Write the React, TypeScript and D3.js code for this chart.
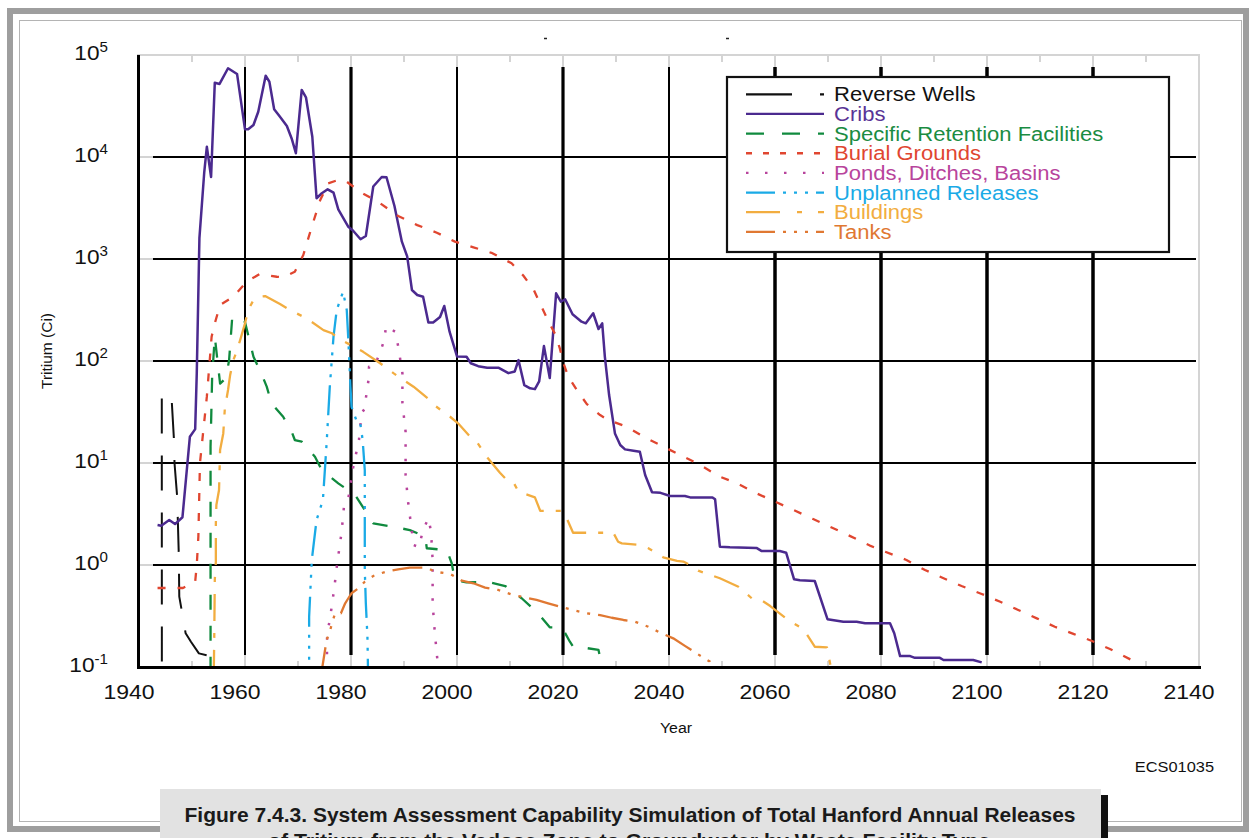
import React from 'react';
import * as d3 from 'd3';

type Pt = [number, number];

// ---------- axis data ----------
const YEAR_LABELS = [1940, 1960, 1980, 2000, 2020, 2040, 2060, 2080, 2100, 2120, 2140];
const GRID_YEARS = [1960, 1980, 2000, 2020, 2040, 2060, 2080, 2100, 2120];
const MINOR_YEARS = d3.range(1950, 2140, 10);
const DECADES = [0.1, 1, 10, 100, 1000, 10000, 100000];
const EXPONENTS = ['-1', '0', '1', '2', '3', '4', '5'];
const GRID_DECADES = [1, 10, 100, 1000, 10000];

// ---------- series data (year, Ci) ----------
const reverseWells: Pt[] = [
  [1944.3, 43], [1944.32, 0.01], [1945, NaN],
  [1946.2, 38.7], [1946.6, 16.8], [1946.7, 10], [1947.2, 4.67], [1947.5, 1.31], [1947.6, 0.49],
  [1948.1, 0.348], [1948.8, 0.214], [1949.8, 0.177], [1951.3, 0.136], [1953.5, 0.128],
  [1953.8, 0.117], [1953.9, 0.05],
];

const cribs: Pt[] = [
  [1943.5, 2.47], [1944.2, 2.43], [1945.7, 2.76], [1946.8, 2.52], [1948.2, 2.94], [1949.6, 18.1],
  [1950.6, 21.5], [1950.9, 76], [1951.4, 1600], [1952.3, 6970], [1952.8, 12600], [1953.6, 6370],
  [1954.3, 53400], [1955.2, 52000], [1956.8, 74100], [1958.5, 65200], [1960.0, 18700], [1960.6, 18700],
  [1961.6, 20600], [1962.5, 27800], [1963.9, 62700], [1964.6, 54700], [1965.5, 29400], [1966.6, 24800],
  [1967.9, 20100], [1968.8, 15200], [1969.6, 10900], [1970.7, 45400], [1971.5, 38500], [1972.7, 15800],
  [1973.5, 3940], [1974.5, 4410], [1975.6, 4820], [1976.7, 4470], [1977.6, 3070], [1979.5, 2070],
  [1980.4, 1890], [1981.8, 1560], [1982.8, 1680], [1984.2, 5140], [1985.8, 6370], [1986.7, 6330],
  [1988.2, 3310], [1989.6, 1480], [1990.6, 1060], [1991.5, 497], [1992.5, 444], [1993.6, 427],
  [1994.6, 238], [1995.5, 238], [1996.8, 270], [1997.6, 346], [1998.6, 194], [2000.0, 111],
  [2001.8, 110], [2002.6, 95], [2004.0, 89], [2005.7, 86], [2007.8, 86], [2009.7, 76], [2010.9, 79],
  [2011.6, 102], [2012.7, 58], [2013.8, 54], [2014.7, 53], [2015.5, 63], [2016.4, 140], [2017.5, 68],
  [2018.7, 461], [2019.6, 381], [2020.4, 403], [2021.8, 287], [2023.5, 243], [2024.3, 234],
  [2025.7, 294], [2026.7, 206], [2027.4, 234], [2027.9, 110], [2028.7, 46.4], [2029.8, 19.5],
  [2030.8, 15], [2031.7, 13.6], [2033.3, 13.2], [2034.5, 12.9], [2035.5, 7.63], [2036.8, 5.16],
  [2038.4, 5.1], [2040.2, 4.75], [2043.0, 4.75], [2044.0, 4.6], [2048.2, 4.6], [2048.7, 4.4],
  [2049.6, 1.51], [2051.5, 1.49], [2056.5, 1.47], [2057.5, 1.37], [2060.9, 1.37], [2062.1, 1.32],
  [2063.6, 0.724], [2064.7, 0.71], [2067.5, 0.697], [2069.9, 0.294], [2072.9, 0.278], [2075.4, 0.278],
  [2077.0, 0.268], [2081.7, 0.268], [2082.5, 0.214], [2083.6, 0.128], [2085.5, 0.128], [2086.4, 0.123],
  [2091.1, 0.123], [2091.8, 0.117], [2097.4, 0.117], [2099.0, 0.111],
];

const specificRetention: Pt[] = [
  [1953.5, 0.09], [1953.5, 14.4], [1953.8, 70], [1954.3, 173], [1955.3, 60], [1956.4, 68], [1957.0, 102],
  [1957.6, 272], [1959.1, 264], [1960.0, 241], [1961.6, 110], [1963.2, 73], [1964.1, 56], [1965.0, 38.5],
  [1967.2, 28.4], [1968.8, 20.3], [1969.4, 16.8], [1970.7, 16.2], [1973.2, 11.5], [1974.5, 8.53],
  [1977.6, 6.32], [1980.8, 4.85], [1982.6, 3.46], [1984.2, 2.56], [1988.0, 2.37], [1991.1, 2.2],
  [1994.0, 1.9], [1994.3, 1.46], [1998.1, 1.4], [1999.0, 1.04], [1999.6, 0.713], [2001.8, 0.676],
  [2005.9, 0.68], [2009.1, 0.622], [2012.2, 0.472], [2015.3, 0.336], [2017.5, 0.245], [2019.8, 0.245],
  [2021.3, 0.177], [2022.0, 0.156], [2023.5, 0.156], [2026.7, 0.147], [2027.3, 0.105], [2027.5, 0.08],
];

const burialGrounds: Pt[] = [
  [1943.5, 0.595], [1948.3, 0.595], [1950.6, 0.686], [1950.9, 1.0], [1951.2, 1.9], [1951.5, 10],
  [1952.8, 44.7], [1953.1, 70], [1953.7, 173], [1954.3, 234], [1955.3, 354], [1957.8, 427],
  [1960.3, 599], [1962.8, 713], [1966.0, 670], [1967.2, 660], [1969.4, 750], [1971.0, 1094],
  [1972.6, 2073], [1974.2, 3790], [1975.7, 5520], [1977.9, 6040], [1979.2, 5720], [1982.0, 4470],
  [1985.5, 3520], [1988.9, 2640], [1992.5, 2150], [1996.2, 1810], [1999.6, 1480], [2003.1, 1300],
  [2006.5, 1150], [2010.3, 908], [2012.5, 689], [2014.5, 497], [2015.8, 354], [2017.2, 247],
  [2018.5, 184], [2019.4, 133], [2020.1, 95], [2021.0, 70], [2022.6, 52], [2024.5, 37.8],
  [2027.0, 29.5], [2028.5, 26.4], [2032.0, 22.7], [2035.2, 18.1], [2038.9, 14.5], [2042.1, 12],
  [2045.5, 9.8], [2049.6, 7.34], [2052.8, 6.32], [2056.5, 5.05], [2060.0, 4.18], [2063.5, 3.46],
  [2067.2, 2.82], [2070.4, 2.37], [2074.2, 1.92], [2077.9, 1.55], [2080.8, 1.35], [2084.8, 1.12],
  [2088.3, 0.893], [2091.8, 0.741], [2095.2, 0.622], [2099.0, 0.52], [2102.5, 0.436], [2105.9, 0.362],
  [2109.4, 0.3], [2112.8, 0.248], [2116.3, 0.211], [2119.8, 0.18], [2123.2, 0.15], [2127.3, 0.117],
  [2127.8, 0.112],
];

const pondsDitchesBasins: Pt[] = [
  [1975.4, 0.05], [1975.5, 0.214], [1976.0, 0.289], [1976.8, 0.569], [1977.4, 1.04], [1978.2, 2.05],
  [1978.7, 3.87], [1979.5, 4.51], [1980.3, 8.5], [1981.5, 16.8], [1982.0, 30.7], [1982.5, 33.6],
  [1983.3, 65], [1983.4, 88], [1984.4, 88], [1985.3, 115], [1986.3, 161], [1986.6, 220],
  [1988.3, 194], [1988.9, 140], [1989.7, 76], [1989.7, 38.7], [1990.3, 20.3], [1990.3, 7.6],
  [1990.8, 4.03], [1991.5, 2.12], [1991.8, 1.57], [1992.8, 1.5], [1993.6, 2.2], [1994.6, 2.87],
  [1995.1, 2.13], [1995.4, 1.12], [1995.4, 0.42], [1995.8, 0.222], [1996.3, 0.117], [1996.5, 0.05],
];

const unplannedReleases: Pt[] = [
  [1972.1, 0.05], [1972.1, 0.311], [1972.6, 1.12], [1973.5, 2.76], [1974.7, 4.34], [1975.4, 15.6],
  [1976.0, 56], [1976.7, 173], [1977.3, 316], [1978.5, 478], [1979.2, 316], [1979.5, 161],
  [1979.9, 56], [1980.1, 35.6], [1981.1, 25.4], [1981.7, 25.4], [1982.2, 16.8], [1982.6, 8.5],
  [1982.6, 0.89], [1982.8, 0.42], [1983.1, 0.198], [1983.3, 0.05],
];

const buildings: Pt[] = [
  [1954.1, 0.08], [1954.2, 0.198], [1954.3, 0.713], [1954.5, 1.08], [1954.5, 2.56], [1954.6, 3.87],
  [1955.1, 5.44], [1955.3, 13.4], [1955.9, 19.5], [1956.2, 34.4], [1956.8, 52], [1957.2, 73],
  [1957.8, 102], [1958.4, 123], [1959.1, 161], [1960.0, 234], [1960.6, 316], [1961.6, 396],
  [1962.5, 427], [1963.8, 433], [1966.6, 362], [1968.5, 316], [1971.6, 262], [1974.8, 201],
  [1976.4, 187], [1977.6, 167], [1981.1, 133], [1982.3, 123], [1985.5, 95], [1988.0, 76],
  [1989.9, 65], [1991.8, 56], [1995.2, 40], [1995.8, 36.6], [1998.7, 28.4], [2000.2, 24.5],
  [2002.5, 18.1], [2003.7, 16.2], [2005.8, 11.2], [2008.1, 8.04], [2009.4, 6.81], [2010.6, 6.55],
  [2011.6, 5.23], [2014.7, 4.61], [2015.7, 3.4], [2019.8, 3.4], [2020.7, 2.87], [2021.9, 2.07],
  [2029.5, 2.07], [2030.4, 1.69], [2031.1, 1.63], [2034.5, 1.57], [2036.1, 1.46], [2038.9, 1.19],
  [2041.5, 1.1], [2042.7, 1.08], [2044.0, 1.0], [2045.5, 0.88], [2049.6, 0.741], [2053.1, 0.612],
  [2055.6, 0.472], [2057.2, 0.46], [2059.1, 0.396], [2062.5, 0.289], [2065.4, 0.234], [2067.5, 0.158],
  [2069.8, 0.156], [2070.7, 0.09],
];

const tanks: Pt[] = [
  [1974.3, 0.08], [1975.4, 0.184], [1976.0, 0.222], [1976.5, 0.278], [1977.0, 0.336], [1978.1, 0.336],
  [1978.9, 0.421], [1979.5, 0.472], [1980.1, 0.528], [1981.4, 0.591], [1982.6, 0.686], [1984.5, 0.798],
  [1986.7, 0.86], [1988.9, 0.908], [1991.1, 0.942], [1994.3, 0.942], [1995.2, 0.893], [1996.7, 0.847],
  [1998.7, 0.816], [2000.9, 0.702], [2003.1, 0.662], [2005.3, 0.6], [2007.8, 0.569], [2010.6, 0.508],
  [2012.8, 0.482], [2015.0, 0.454], [2017.2, 0.421], [2019.4, 0.39], [2021.9, 0.362], [2024.5, 0.336],
  [2027.0, 0.323], [2029.2, 0.304], [2031.4, 0.289], [2033.6, 0.278], [2036.1, 0.248], [2038.6, 0.214],
  [2040.8, 0.191], [2043.0, 0.161], [2045.2, 0.136], [2047.7, 0.113], [2048.3, 0.09],
];

const SERIES_NAMES = [
  'Reverse Wells', 'Cribs', 'Specific Retention Facilities', 'Burial Grounds',
  'Ponds, Ditches, Basins', 'Unplanned Releases', 'Buildings', 'Tanks',
];
const SERIES_DATA = [reverseWells, cribs, specificRetention, burialGrounds, pondsDitchesBasins, unplannedReleases, buildings, tanks];

// styles
const SERIES_COLORS = ['#111111', '#4b2a8f', '#108a3e', '#e04630', '#b8449c', '#1aaae6', '#f2ad40', '#e07832'];
const TEXT_COLORS = ['#111111', '#5a3496', '#1a8c42', '#e04630', '#b8449c', '#1aaae6', '#f2ad40', '#e07832'];
const SERIES_DASH = ['35,22', 'none', '15,16', '8,12', '2.5,12', '30,8,3,8,3,8,3,8', '27,12,5,12', '30,8,3,8,3,8,3,8'];
const LEGEND_DASH = ['46,28', 'none', '18,18', '6,11', '2.5,16.5', '29,8,3,8,3,8,3,8', '34,17,5,16', '29,8,3,8,3,8,3,8'];
const SERIES_WIDTH = [2, 2.5, 2.3, 2.3, 2.5, 2.3, 2.3, 2.3];
const GRID_WIDTH: Record<number, number> = { 1960: 2, 1980: 3.2, 2000: 2, 2020: 3.2, 2040: 2, 2060: 3.5, 2080: 3.5, 2100: 3.5, 2120: 3.5 };

const FONT = "'Liberation Sans', Arial, Helvetica, sans-serif";

export default function App() {
  const W = 1249, H = 838;
  const x = d3.scaleLinear().domain([1940, 2140]).range([139, 1199]);
  const y = d3.scaleLog().domain([0.1, 1e5]).range([667, 55]);

  const line = d3.line<Pt>()
    .defined(d => Number.isFinite(d[1]) && d[1] > 0)
    .x(d => x(d[0]))
    .y(d => y(d[1]));

  const left = x(1940), right = x(2140), top = y(1e5), bottom = y(0.1);

  const legendX = 727, legendY = 77, legendW = 442, legendH = 175;
  const rowY0 = 94.3, rowStep = 19.65;

  return (
    <svg width={W} height={H} viewBox={`0 0 ${W} ${H}`}
      style={{ position: 'absolute', left: 0, top: 0, display: 'block', background: '#fff' }}
      fontFamily={FONT}>
      <defs>
        <clipPath id="plotClip">
          <rect x={left} y={top} width={right - left} height={bottom - top} />
        </clipPath>
      </defs>
      <rect x={0} y={0} width={W} height={H} fill="#ffffff" />

      {/* outer frame */}
      <rect x={10} y={11} width={1236} height={818} fill="none" stroke="#9e9e9e" strokeWidth={6} />
      <rect x={19.5} y={20.5} width={1222} height={801} fill="none" stroke="#b4b4b4" strokeWidth={1} />

      {/* tiny title remnants */}
      <line x1={544} x2={547} y1={38.5} y2={38.5} stroke="#222" strokeWidth={1.5} />
      <line x1={726} x2={729} y1={38.5} y2={38.5} stroke="#222" strokeWidth={1.5} />

      {/* frame of plot: top and right light borders */}
      <line x1={left - 2} x2={right + 1} y1={top} y2={top} stroke="#d4d4d4" strokeWidth={2} />
      <line x1={right} x2={right} y1={top} y2={bottom} stroke="#d4d4d4" strokeWidth={2} />

      {/* minor ticks top and bottom */}
      {MINOR_YEARS.map(t => (
        <g key={'mt' + t}>
          <line x1={x(t)} x2={x(t)} y1={top} y2={top + (t % 20 === 0 ? 12 : 7)} stroke="#d4d4d4" strokeWidth={2} />
          <line x1={x(t)} x2={x(t)} y1={bottom} y2={bottom - (t % 20 === 0 ? 12 : 6)} stroke="#d4d4d4" strokeWidth={2} />
        </g>
      ))}

      {/* vertical grid */}
      {GRID_YEARS.map(t => (
        <line key={'vg' + t} x1={x(t)} x2={x(t)} y1={top + 12} y2={bottom - 12}
          stroke="#000" strokeWidth={GRID_WIDTH[t]} />
      ))}
      {/* horizontal grid */}
      {GRID_DECADES.map(v => (
        <line key={'hg' + v} x1={left + 14} x2={right - 3} y1={y(v)} y2={y(v)} stroke="#000" strokeWidth={2} />
      ))}
      {/* y tick stubs */}
      {DECADES.map(v => (
        <line key={'yt' + v} x1={left - 2} x2={left + 14} y1={y(v)} y2={y(v)} stroke="#d4d4d4" strokeWidth={2} />
      ))}

      {/* series */}
      <g clipPath="url(#plotClip)">
        {SERIES_DATA.map((data, i) => (
          <path key={'s' + i} d={line(data) || ''} fill="none" stroke={SERIES_COLORS[i]}
            strokeWidth={SERIES_WIDTH[i]} strokeDasharray={SERIES_DASH[i]}
            strokeLinejoin="round" strokeLinecap="butt" />
        ))}
      </g>

      {/* axes */}
      <line x1={left - 0.5} x2={left - 0.5} y1={top} y2={bottom + 2} stroke="#000" strokeWidth={3} />
      <line x1={left - 2} x2={right + 2} y1={bottom + 0.5} y2={bottom + 0.5} stroke="#000" strokeWidth={3} />

      {/* y tick labels */}
      {DECADES.map((v, i) => (
        <text key={'yl' + v} transform={`translate(108,${y(v) + 4.5}) scale(1.08,1)`} textAnchor="end"
          fontSize={21} fill="#111">
          10<tspan fontSize={14} dy={-8}>{EXPONENTS[i]}</tspan>
        </text>
      ))}

      {/* x tick labels */}
      {YEAR_LABELS.map(t => (
        <text key={'xl' + t} transform={`translate(${x(t) - 10},699) scale(1.15,1)`} textAnchor="middle"
          fontSize={20} fill="#111">{t}</text>
      ))}

      {/* axis titles */}
      <text transform="translate(52,351) rotate(-90)" textAnchor="middle" fontSize={15.5} fill="#111">Tritium (Ci)</text>
      <text transform="translate(676,733) scale(1.1,1)" textAnchor="middle" fontSize={14.5} fill="#111">Year</text>
      <text transform="translate(1214,772) scale(1.13,1)" textAnchor="end" fontSize={14.5} fill="#111">ECS01035</text>

      {/* legend */}
      <rect x={legendX} y={legendY} width={legendW} height={legendH} fill="#fff" stroke="#111" strokeWidth={2.2} />
      {SERIES_NAMES.map((name, i) => {
        const cy = rowY0 + i * rowStep;
        return (
          <g key={'lg' + i}>
            <line x1={746} x2={824} y1={cy} y2={cy} stroke={SERIES_COLORS[i]} strokeWidth={2.3}
              strokeDasharray={LEGEND_DASH[i]} />
            <text transform={`translate(834,${cy + 7}) scale(1.13,1)`} fontSize={19.5} fill={TEXT_COLORS[i]}>{name}</text>
          </g>
        );
      })}

      {/* caption box */}
      <rect x={1101} y={795} width={7} height={50} fill="#111" />
      <rect x={160} y={789} width={941} height={60} fill="#e2e2e2" />
      <text x={630} y={822} textAnchor="middle" fontSize={20} fontWeight="bold" fill="#1a1a1a"
        fontFamily="'Liberation Sans Narrow', 'Liberation Sans', Arial, sans-serif"
        textLength={891} lengthAdjust="spacingAndGlyphs">
        Figure 7.4.3.  System Assessment Capability Simulation of Total Hanford Annual Releases
      </text>
      <text x={629} y={848} textAnchor="middle" fontSize={20} fontWeight="bold" fill="#1a1a1a"
        fontFamily="'Liberation Sans Narrow', 'Liberation Sans', Arial, sans-serif"
        textLength={722} lengthAdjust="spacingAndGlyphs">
        of Tritium from the Vadose Zone to Groundwater by Waste Facility Type
      </text>
    </svg>
  );
}
